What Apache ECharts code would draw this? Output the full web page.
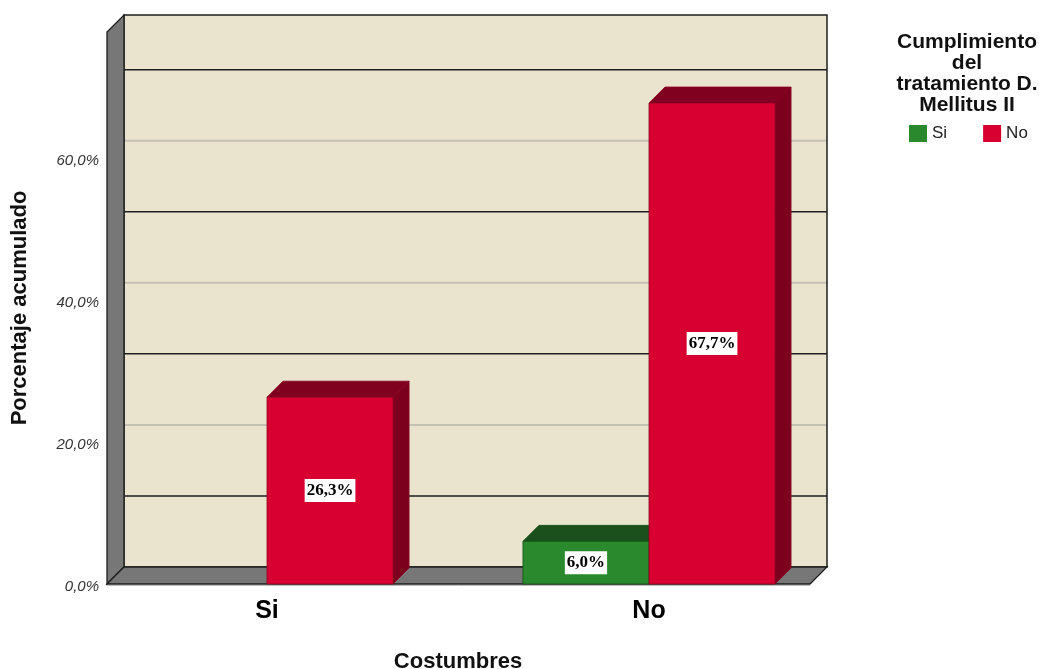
<!DOCTYPE html>
<html><head><meta charset="utf-8">
<script src="https://cdn.jsdelivr.net/npm/echarts@6/dist/echarts.min.js"></script>
<style>html,body{margin:0;padding:0;background:#fff}#c{width:1041px;height:669px}</style>
</head><body><div id="c"></div>
<script>
// ---- data ----
const categories = ['Si', 'No'];
const legendNames = ['Si', 'No'];
const siValues = [null, 6.0];
const noValues = [26.3, 67.7];
const yMax = 77.7;
const yTickInterval = 20;
const wallLinesDark = [10, 30, 50, 70];
const wallLinesLight = [20, 40, 60];
const legendTitle = 'Cumplimiento\ndel\ntratamiento D.\nMellitus II';
const xTitle = 'Costumbres';
const yTitle = 'Porcentaje acumulado';

const fmt = v => v.toFixed(1).replace('.', ',') + '%';

const WALL_D = 17, BAR_D = 16;
const colSi = { front: '#2A892C', top: '#1B501C', side: '#144016', edge: '#145016' };
const colNo = { front: '#D70030', top: '#800020', side: '#7C001E', edge: '#8A0022' };

function wallRender(params, api) {
  const p0 = api.coord([0, 0]);
  const p1 = api.coord([1, yMax]);
  const xL = p0[0], xR = p1[0], yB = p0[1], yT = p1[1];
  const D = WALL_D;
  const ch = [];
  ch.push({ type: 'rect', shape: { x: xL + D, y: yT - D, width: xR - xL, height: yB - yT },
    style: { fill: '#EAE4CF' } });
  wallLinesLight.forEach(v => {
    const y = api.coord([0, v])[1] - D;
    ch.push({ type: 'line', shape: { x1: xL + D, y1: y, x2: xR + D, y2: y }, style: { stroke: '#C4C0B2', lineWidth: 2 } });
  });
  wallLinesDark.forEach(v => {
    const y = api.coord([0, v])[1] - D;
    ch.push({ type: 'line', shape: { x1: xL + D, y1: y, x2: xR + D, y2: y }, style: { stroke: '#1E1E1E', lineWidth: 1.5 } });
  });
  ch.push({ type: 'rect', shape: { x: xL + D, y: yT - D, width: xR - xL, height: yB - yT },
    style: { fill: null, stroke: '#1E1E1E', lineWidth: 1.5 } });
  ch.push({ type: 'polygon', shape: { points: [[xL, yT], [xL + D, yT - D], [xL + D, yB - D], [xL, yB]] },
    style: { fill: '#777777', stroke: '#1E1E1E', lineWidth: 1.3 } });
  ch.push({ type: 'polygon', shape: { points: [[xL, yB], [xL + D, yB - D], [xR + D, yB - D], [xR, yB]] },
    style: { fill: '#777777', stroke: '#1E1E1E', lineWidth: 1.3 } });
  ch.push({ type: 'line', shape: { x1: xL, y1: yB + 1.5, x2: xR, y2: yB + 1.5 }, style: { stroke: '#BBBBBB', lineWidth: 1 } });
  return { type: 'group', children: ch };
}

function barRender(side, c) {
  return function (params, api) {
    const v = api.value(1);
    if (v == null || isNaN(v)) return;
    const ci = api.value(0);
    const top = api.coord([ci, v]);
    const base = api.coord([ci, 0]);
    const band = api.size([1, 0])[0];
    const w = band * 0.33;
    const x0 = side === 0 ? top[0] - w : top[0];
    const yT = top[1], yB = base[1], d = BAR_D;
    return { type: 'group', children: [
      { type: 'polygon', shape: { points: [[x0 + w, yT], [x0 + w + d, yT - d], [x0 + w + d, yB - d], [x0 + w, yB]] },
        style: { fill: c.side, stroke: c.edge, lineWidth: 0.8 } },
      { type: 'polygon', shape: { points: [[x0, yT], [x0 + d, yT - d], [x0 + w + d, yT - d], [x0 + w, yT]] },
        style: { fill: c.top, stroke: c.edge, lineWidth: 0.8 } },
      { type: 'rect', shape: { x: x0, y: yT, width: w, height: yB - yT },
        style: { fill: c.front, stroke: c.edge, lineWidth: 0.8 } },
      { type: 'text', x: x0 + w / 2, y: (yT + yB) / 2,
        style: { text: fmt(v), fill: '#000', font: 'bold 17px "Liberation Serif"', align: 'center', verticalAlign: 'middle',
          backgroundColor: '#fff', padding: [3, 2, 3, 2] } }
    ] };
  };
}

const chart = echarts.init(document.getElementById('c'), null, { renderer: 'canvas' });
chart.setOption({
  animation: false,
  backgroundColor: '#fff',
  textStyle: { fontFamily: 'Liberation Sans' },
  title: { text: legendTitle, left: 962, top: 27, textAlign: 'center',
    textStyle: { fontSize: 21, fontWeight: 'bold', lineHeight: 21, color: '#111', fontFamily: 'Liberation Sans' } },
  legend: { data: legendNames, left: 904, top: 120, icon: 'rect', itemWidth: 18, itemHeight: 17, itemGap: 36,
    textStyle: { fontSize: 17, color: '#222', fontFamily: 'Liberation Sans' } },
  grid: [
    { left: 107, right: 231, top: 32, bottom: 85, outerBoundsMode: 'none' },
    { left: 76, right: 201, top: 32, bottom: 85, outerBoundsMode: 'none' }
  ],
  xAxis: [
    { gridIndex: 0, type: 'value', min: 0, max: 1, show: false },
    { gridIndex: 1, type: 'category', data: categories,
      axisLine: { show: false }, axisTick: { show: false },
      axisLabel: { fontSize: 25, fontWeight: 'bold', color: '#000', margin: 15 },
      name: xTitle, nameLocation: 'middle', nameGap: 67,
      nameTextStyle: { fontSize: 22, fontWeight: 'bold', color: '#111' } }
  ],
  yAxis: [
    { gridIndex: 0, type: 'value', min: 0, max: yMax, interval: yTickInterval,
      axisLine: { show: false }, axisTick: { show: false }, splitLine: { show: false },
      axisLabel: { formatter: v => '{t|' + fmt(v) + '}', margin: 8, showMaxLabel: false,
        rich: { t: { fontSize: 15, fontStyle: 'italic', color: '#333', fontFamily: 'Liberation Sans', padding: [6, 0, 0, 0] } } },
      name: yTitle, nameLocation: 'middle', nameGap: 76, nameRotate: 90,
      nameTextStyle: { fontSize: 22, fontWeight: 'bold', color: '#111' } },
    { gridIndex: 1, type: 'value', min: 0, max: yMax, show: false }
  ],
  series: [
    { type: 'custom', name: 'wall', xAxisIndex: 0, yAxisIndex: 0, silent: true, z: 1,
      data: [[0, 0]], renderItem: wallRender },
    { type: 'custom', name: legendNames[0], xAxisIndex: 1, yAxisIndex: 1, z: 3,
      itemStyle: { color: colSi.front },
      data: categories.map((c, i) => [i, siValues[i]]), renderItem: barRender(0, colSi) },
    { type: 'custom', name: legendNames[1], xAxisIndex: 1, yAxisIndex: 1, z: 3,
      itemStyle: { color: colNo.front },
      data: categories.map((c, i) => [i, noValues[i]]), renderItem: barRender(1, colNo) }
  ]
});
</script></body></html>
